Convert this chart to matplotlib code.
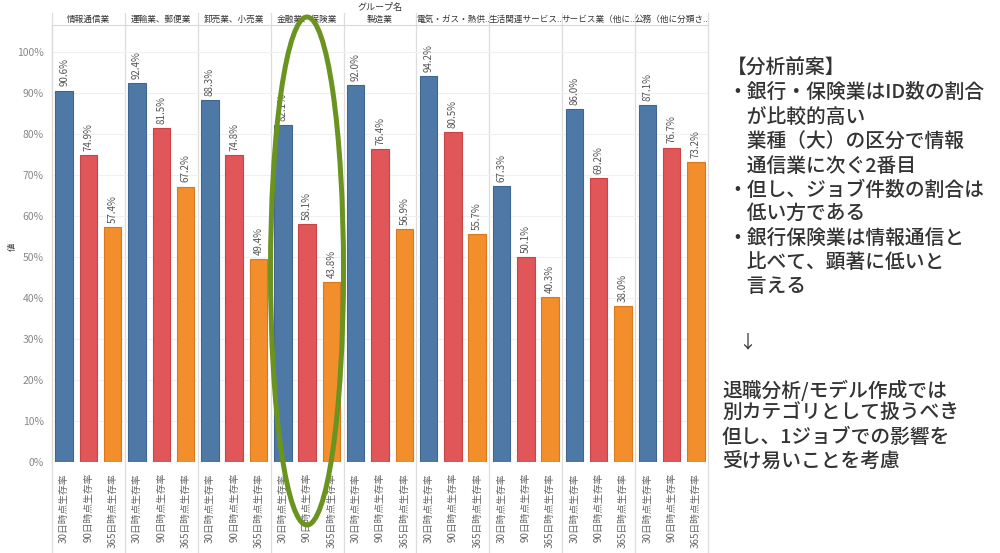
import numpy as np
import matplotlib.pyplot as plt
from matplotlib.patches import Ellipse
import matplotlib.transforms as mtransforms

plt.rcParams['font.family'] = ['Noto Sans CJK JP', 'DejaVu Sans']

# ================================================================
# Data
# ================================================================
groups = ['情報通信業', '運輸業、郵便業', '卸売業、小売業', '金融業、保険業', '製造業',
          '電気・ガス・熱供..', '生活関連サービス..', 'サービス業（他に..', '公務（他に分類さ..']
measures = ['30日時点生存率', '90日時点生存率', '365日時点生存率']
rate_30 = [90.6, 92.4, 88.3, 82.1, 92.0, 94.2, 67.3, 86.0, 87.1]
rate_90 = [74.9, 81.5, 74.8, 58.1, 76.4, 80.5, 50.1, 69.2, 76.7]
rate_365 = [57.4, 67.2, 49.4, 43.8, 56.9, 55.7, 40.3, 38.0, 73.2]
colors = ['#4e79a7', '#e15759', '#f28e2b']
edges = ['#3f6690', '#c94446', '#d9781c']

notes = ['【分析前案】',
         '・銀行・保険業はID数の割合',
         '　が比較的高い',
         '　業種（大）の区分で情報',
         '　通信業に次ぐ2番目',
         '・但し、ジョブ件数の割合は',
         '　低い方である',
         '・銀行保険業は情報通信と',
         '　比べて、顕著に低いと',
         '　言える']
note_y = [68, 92, 117, 142, 166, 190, 213, 238, 262, 287]
conclusion = ['退職分析/モデル作成では',
              '別カテゴリとして扱うべき',
              '但し、1ジョブでの影響を',
              '受け易いことを考慮']
concl_y = [390, 413, 437, 462]

W, H = 1000, 553
fig = plt.figure(figsize=(W / 100, H / 100), dpi=100)
ax = fig.add_axes([52 / W, 1 - 462 / H, 656 / W, 437 / H])

series = [rate_30, rate_90, rate_365]
bar_w = 0.24
for j, vals in enumerate(series):
    xs = np.arange(len(groups)) + (j + 0.5) / 3
    ax.bar(xs, vals, width=bar_w, color=colors[j], edgecolor=edges[j],
           linewidth=0.8, zorder=3)
    for x, v in zip(xs, vals):
        ax.text(x, v + 1.0, f'{v:.1f}%', rotation=90, ha='center', va='bottom',
                fontsize=7, color='#555555', zorder=4)

ax.set_xlim(0, len(groups))
ax.set_ylim(0, 106.6)
ax.set_yticks(np.arange(0, 101, 10))
ax.set_yticklabels([f'{t}%' for t in range(0, 101, 10)], fontsize=7.5, color='#888888')
ax.tick_params(axis='y', length=0, pad=6)
ax.grid(axis='y', color='#f0f0f0', linewidth=0.8, zorder=0)

# x tick labels: measure names under each bar
xt = [i + (j + 0.5) / 3 for i in range(len(groups)) for j in range(3)]
ax.set_xticks(xt)
ax.set_xticklabels(measures * len(groups), rotation=90, fontsize=7, color='#666666', va='top')
ax.tick_params(axis='x', length=0, pad=8)

for s in ['right', 'bottom']:
    ax.spines[s].set_visible(False)
ax.spines['left'].set_color('#d8d8d8')
ax.spines['top'].set_color('#d8d8d8')

# panel separators, running through header and label area
trans = mtransforms.blended_transform_factory(ax.transData, ax.transAxes)
for i in range(0, len(groups) + 1):
    ax.plot([i, i], [-0.21, 1.027], transform=trans, color='#dddddd',
            linewidth=0.9, clip_on=False, zorder=1)

for i, g in enumerate(groups):
    ax.text(i + 0.5, 1.0135, g, transform=trans, ha='center', va='center',
            fontsize=6.2, color='#333333')

fig.text(380 / W, 1 - 7 / H, 'グループ名', ha='center', va='center', fontsize=6.5, color='#333333')
fig.text(12 / W, 1 - 247 / H, '値', rotation=90, ha='center', va='center',
         fontsize=6, color='#333333')

# highlight ring around 金融業、保険業
ring = Ellipse((307 / W, 1 - 271 / H), 73 / W, 508 / H, transform=fig.transFigure,
               fill=False, edgecolor='#6b9320', linewidth=3.6, zorder=10)
fig.add_artist(ring)

# commentary on the right
for t, y in zip(notes, note_y):
    fig.text(727 / W, 1 - y / H, t, ha='left', va='center', fontsize=14.2,
             color='#333333', fontweight='medium')
fig.text(747 / W, 1 - 342 / H, '↓', ha='center', va='center', fontsize=13,
         color='#333333')
for t, y in zip(conclusion, concl_y):
    fig.text(722 / W, 1 - y / H, t, ha='left', va='center', fontsize=14.2,
             color='#333333', fontweight='medium')

fig.savefig('out.png', dpi=100)
